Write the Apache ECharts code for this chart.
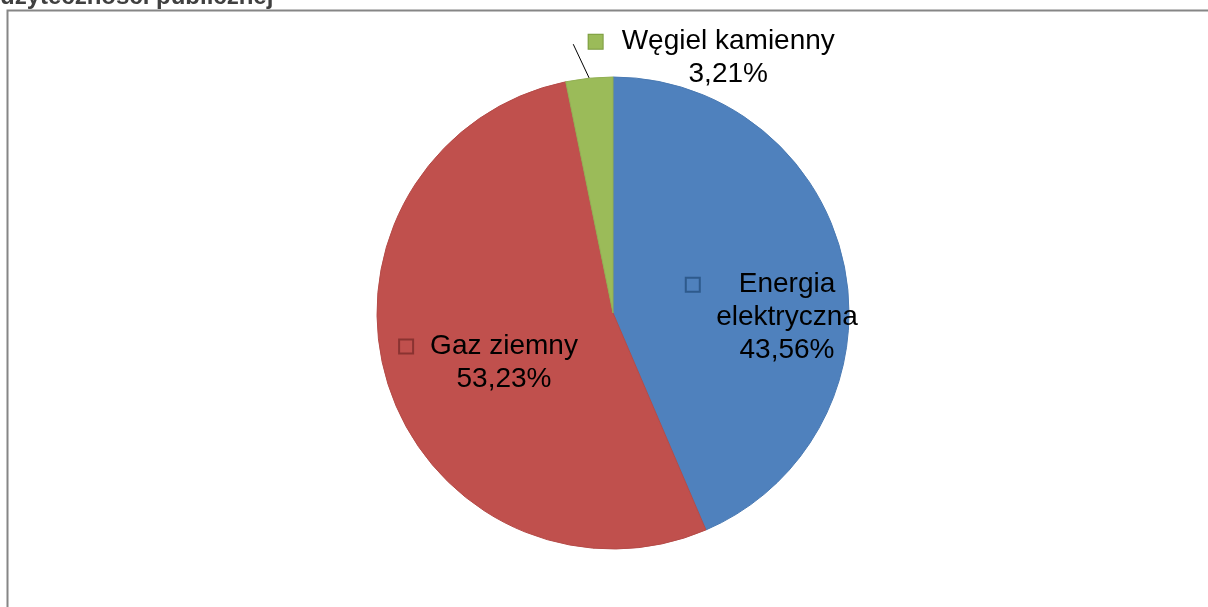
<!DOCTYPE html>
<html>
<head>
<meta charset="utf-8">
<title>Struktura zużycia nośników energii</title>
<script src="https://cdn.jsdelivr.net/npm/echarts@6/dist/echarts.min.js"></script>
<style>
  html, body { margin: 0; padding: 0; background: #fff; }
  #chart { width: 1208px; height: 607px; }
</style>
</head>
<body>
<div id="chart"></div>
<script>
// dane z wykresu
const categories = ['Energia elektryczna', 'Gaz ziemny', 'Węgiel kamienny']
const shares = [43.56, 53.23, 3.21]
const titleText = 'użyteczności publicznej'

// kolory w stylu Excela
const sliceColors = ['#4F81BD', '#C0504D', '#9BBB59']
const sliceBorders = ['#4A7AB3', '#B54B48', '#92B054']
const keyBorders = ['#2E5A8C', '#8A3331', '#7A9A3E']
const keyFills = ['transparent', 'transparent', '#9BBB59']
const keyGaps = [39, 17, 19]
// przesunięcie etykiet względem domyślnego położenia
const labelShift = [[56, 29], [7, 14], [139, -20]]

const rich = {
  t: { fontSize: 28, fontFamily: 'Liberation Sans', color: '#000', lineHeight: 33, align: 'center' }
}
categories.forEach((c, i) => {
  rich['k' + i] = { width: 14, height: 14, borderWidth: 1, borderColor: keyBorders[i], backgroundColor: keyFills[i], align: 'left' }
  rich['g' + i] = { width: keyGaps[i], align: 'left' }
  rich['r' + i] = { width: 14 + keyGaps[i], align: 'right' }
})

const chart = echarts.init(document.getElementById('chart'))
chart.setOption({
  backgroundColor: '#fff',
  animation: false,
  graphic: [
    {
      type: 'rect',
      shape: { x: 7.5, y: 10.5, width: 1400, height: 800 },
      style: { fill: 'none', stroke: '#868686', lineWidth: 2 },
      silent: true
    },
    {
      type: 'text',
      style: { x: 0, y: 9, text: titleText, font: 'bold 24px "Liberation Sans"', fill: '#404040', verticalAlign: 'bottom' },
      silent: true
    }
  ],
  series: [{
    type: 'pie',
    center: [613, 313],
    radius: 236,
    startAngle: 90,
    clockwise: true,
    silent: true,
    avoidLabelOverlap: false,
    data: categories.map((name, i) => ({
      name: name,
      value: shares[i],
      itemStyle: { color: sliceColors[i], borderColor: sliceBorders[i], borderWidth: 1 },
      label: { position: i === 2 ? 'outside' : 'inside' }
    })),
    label: {
      show: true,
      fontSize: 28,
      fontFamily: 'Liberation Sans',
      color: '#000',
      rich: rich,
      formatter: function (p) {
        const i = p.dataIndex
        const words = i === 0 ? p.name.split(' ') : [p.name]
        const pct = p.value.toFixed(2).replace('.', ',') + '%'
        let s = '{k' + i + '|}{g' + i + '|}{t|' + words[0] + '}{r' + i + '|}'
        for (let w = 1; w < words.length; w++) s += '\n{t|' + words[w] + '}'
        return s + '\n{t|' + pct + '}'
      }
    },
    labelLine: {
      show: true,
      length: 34,
      length2: 0,
      lineStyle: { color: '#000', width: 1 }
    },
    labelLayout: function (params) {
      const i = params.dataIndex
      const s = labelShift[i]
      if (i === 2 && params.labelLinePoints) {
        const p0 = params.labelLinePoints[0]
        return {
          x: p0[0] + s[0],
          y: p0[1] + s[1],
          align: 'center',
          verticalAlign: 'middle',
          labelLinePoints: [p0, [p0[0] - 16, p0[1] - 34]]
        }
      }
      const r = params.labelRect
      return {
        x: r.x + r.width / 2 + s[0],
        y: r.y + r.height / 2 + s[1],
        align: 'center',
        verticalAlign: 'middle'
      }
    }
  }]
})
</script>
</body>
</html>
